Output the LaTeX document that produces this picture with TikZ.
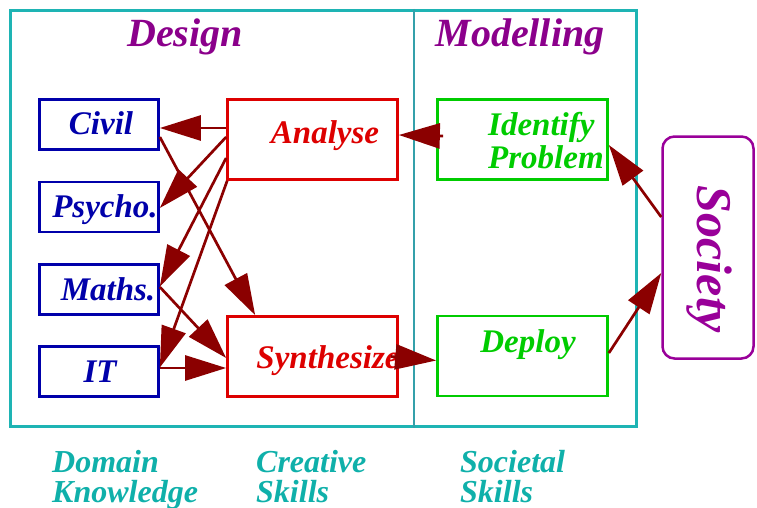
\documentclass[tikz,border=0pt]{standalone}
\usepackage{fontspec}
\setmainfont{Liberation Serif}
\usetikzlibrary{arrows.meta,calc}
\definecolor{frameteal}{HTML}{1EB4B4}
\definecolor{divteal}{HTML}{34A0AA}
\definecolor{lblteal}{HTML}{0FB0AA}
\definecolor{hdpurple}{HTML}{8B008B}
\definecolor{socpurple}{HTML}{990099}
\definecolor{domblue}{HTML}{0000AA}
\definecolor{crred}{HTML}{DD0000}
\definecolor{socgreen}{HTML}{00CC00}
\definecolor{arrred}{HTML}{8B0000}
\tikzset{
  bi/.style={font=\fontsize{#1}{#1}\selectfont\bfseries\itshape},
  txt/.style={anchor=base, inner sep=0pt, outer sep=0pt},
  dombox/.style={draw=domblue, line width=2.7pt, minimum width=119pt, minimum height=50pt, inner sep=0pt},
  crbox/.style={draw=crred, line width=2.7pt, minimum width=170pt, minimum height=80pt, inner sep=0pt},
  socbox/.style={draw=socgreen, line width=2.7pt, minimum width=170pt, minimum height=80pt, inner sep=0pt},
  conn/.style={draw=arrred, line width=2.7pt, -{Triangle[length=41pt,width=25pt]}},
}
\begin{document}
\begin{tikzpicture}[x=1pt,y=-1pt]
\useasboundingbox (0,0) rectangle (757,508);
% frame
\node (frame) [draw=frameteal, line width=3pt, minimum width=626pt, minimum height=416pt, inner sep=0pt] at (323.5,218.5) {};
\draw[divteal, line width=1.4pt] (frame.north -| 414,0) -- (frame.south -| 414,0);
% headings
\node (hdesign) [txt, bi=40, text=hdpurple] at (185,47) {Design};
\node (hmodel) [txt, bi=40, text=hdpurple] at (520,47) {Modelling};
% domain boxes
\node (civil) [dombox] at (99,124.5) {};
\node (psycho) [dombox] at (99,207) {};
\node (maths) [dombox] at (99,289.5) {};
\node (it) [dombox] at (99,371.5) {};
\node (tcivil) [txt, bi=33, text=domblue] at (101,135) {Civil};
\node (tpsycho) [txt, bi=33, text=domblue] at (105,217) {Psycho.};
\node (tmaths) [txt, bi=33, text=domblue] at (108,300) {Maths.};
\node (tit) [txt, bi=33, text=domblue] at (100,382) {IT};
% creative boxes
\node (analyse) [crbox] at (312.5,139.5) {};
\node (synth) [crbox] at (312.5,356.5) {};
\node (tanalyse) [txt, bi=33, text=crred] at (325,143) {Analyse};
\node (tsynth) [txt, bi=33, text=crred] at (328,368) {Synthesize};
% societal boxes
\node (ident) [socbox] at (522.5,139.5) {};
\node (deploy) [socbox] at (522.5,356) {};
\node (tident) [anchor=base west, inner sep=0pt, bi=33, text=socgreen, align=left] at (488,168) {Identify\\[0pt]Problem};
\node (tdeploy) [txt, bi=33, text=socgreen] at (528,352) {Deploy};
% society
\node (society) [draw=socpurple, line width=2.5pt, rounded corners=12pt, minimum width=91pt, minimum height=222pt, inner sep=0pt] at (708,247.5) {};
\node (tsociety) [txt, bi=50, text=socpurple, rotate=-90] at (697,259.5) {Society};
% bottom labels
\node (ldomain) [anchor=base west, inner sep=0pt, bi=32, text=lblteal, align=left] at (52,502) {Domain\\[-2pt]Knowledge};
\node (lcreative) [anchor=base west, inner sep=0pt, bi=32, text=lblteal, align=left] at (256,502) {Creative\\[-2pt]Skills};
\node (lsocietal) [anchor=base west, inner sep=0pt, bi=32, text=lblteal, align=left] at (460,502) {Societal\\[-2pt]Skills};
% connectors
\draw[conn] ($(analyse.west)+(0,-11.5)$) -- ($(civil.east)+(0,3.5)$);
\draw[conn] ($(analyse.west)+(0,-2.5)$) -- ($(psycho.east)+(0,1)$);
\draw[conn] ($(analyse.west)+(0,18.5)$) -- ($(maths.east)+(0,-3)$);
\draw[conn] ($(analyse.south west)+(1,0)$) -- ($(it.east)+(0,-4)$);
\draw[conn] ($(civil.east)+(0,12.5)$) -- ($(synth.north west)+(29,0)$);
\draw[conn] ($(maths.east)+(0,-2.5)$) -- ($(synth.west)+(0,1.5)$);
\draw[conn] ($(it.east)+(0,-3.5)$) -- ($(synth.west)+(0,11.5)$);
\draw[conn] ($(synth.east)+(-8,0)$) -- ($(deploy.west)+(0,4.5)$);
\draw[conn] ($(ident.west)+(7,-3.5)$) -- ($(analyse.east)+(0,-4.5)$);
\draw[conn] ($(society.west)+(0,-30.5)$) -- ($(ident.east)+(0,5.5)$);
\draw[conn] ($(deploy.east)+(0,-3)$) -- ($(society.west)+(0,25.5)$);
\end{tikzpicture}
\end{document}
